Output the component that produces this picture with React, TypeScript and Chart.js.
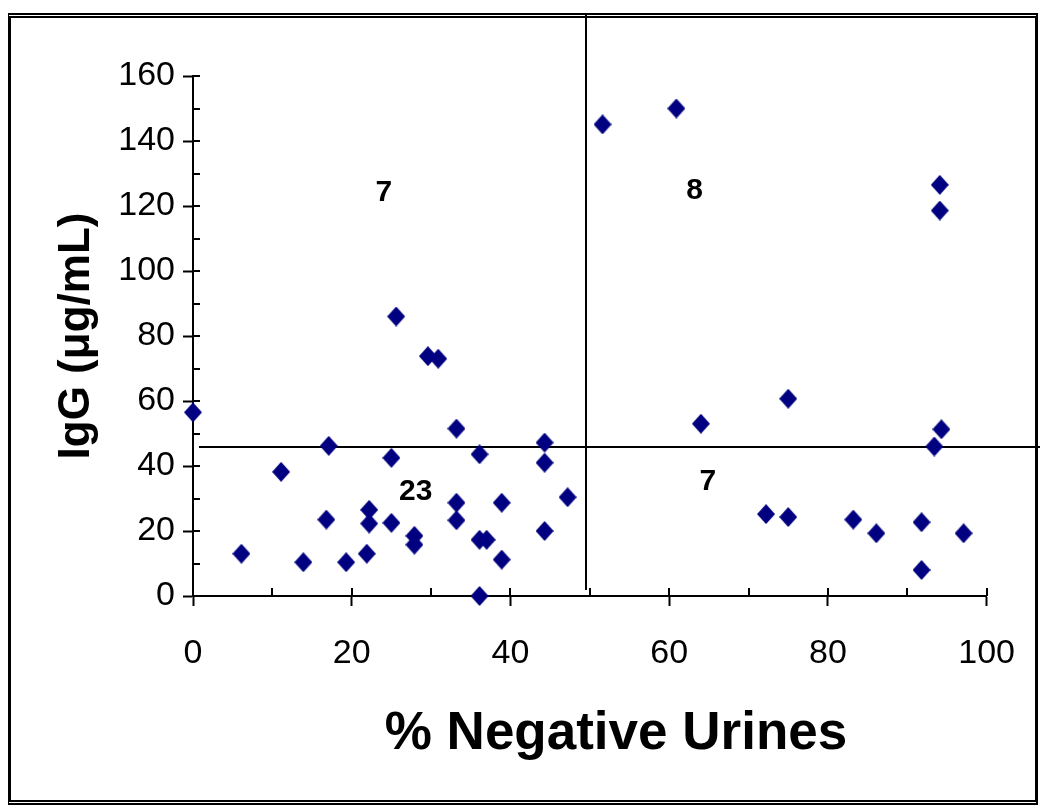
import React, { useEffect, useRef } from 'react';
import { Chart, registerables } from 'chart.js';

Chart.register(...registerables);

// % negative urines (x) and IgG in µg/mL (y)
const negativeUrines = [
  0, 6.1, 11.1, 13.9, 17.1, 16.8, 19.3, 21.9, 22.2, 22.2, 25, 25, 27.9, 27.9,
  25.6, 29.6, 30.9, 33.2, 33.2, 33.2, 36.1, 36.1, 37, 36.1, 38.9, 38.9, 44.3,
  44.3, 44.3, 47.2,
  51.6, 60.9, 94.1, 94.1, 64, 75, 94.3, 93.4,
  72.2, 75, 83.2, 86.1, 91.8, 97.1, 91.8,
];
const iggValues = [
  56.5, 13, 38.2, 10.4, 46.2, 23.5, 10.4, 13, 26.5, 22.3, 42.5, 22.5, 18.5, 15.8,
  86, 73.8, 73, 51.5, 28.7, 23.3, 43.6, 17.3, 17.3, 0, 28.7, 11.2, 47.2,
  41, 20, 30.4,
  145.1, 150, 126.5, 118.6, 53, 60.7, 51.3, 46,
  25.2, 24.3, 23.5, 19.3, 22.7, 19.3, 8,
];

const xTickValues = [0, 20, 40, 60, 80, 100];
const yTickValues = [0, 20, 40, 60, 80, 100, 120, 140, 160];

// quadrant counts and where they sit (data coordinates)
const quadrantCounts = ['7', '8', '23', '7'];
const countX = [24.05, 63.2, 28.06, 64.86];
const countY = [124.6, 125.2, 32.6, 35.7];

// cut-off lines
const xCut = 49.5;
const yCut = 46;

const xTitle = '% Negative Urines';
const yTitle = 'IgG (\u03bcg/mL)';

const FONT = '"Liberation Sans", Arial, Helvetica, sans-serif';
const MARKER_COLOR = '#000080';

function makeDiamond(): HTMLCanvasElement {
  const c = document.createElement('canvas');
  c.width = 18;
  c.height = 20;
  const g = c.getContext('2d')!;
  g.fillStyle = MARKER_COLOR;
  g.beginPath();
  g.moveTo(9, 0);
  g.lineTo(18, 10);
  g.lineTo(9, 20);
  g.lineTo(0, 10);
  g.closePath();
  g.fill();
  return c;
}

export default function App() {
  const ref = useRef<HTMLCanvasElement | null>(null);

  useEffect(() => {
    const canvas = ref.current;
    if (!canvas) return;

    const points = negativeUrines.map((x, i) => ({ x, y: iggValues[i] }));
    const diamond = makeDiamond();

    const decor = {
      id: 'decor',
      beforeDatasetsDraw(chart: any) {
        const { ctx, chartArea, scales } = chart;
        const xs = scales.x;
        const ys = scales.y;
        ctx.save();
        ctx.strokeStyle = '#000';
        // inner tick marks (every 10 units)
        ctx.lineWidth = 2;
        for (let v = 10; v <= 160; v += 10) {
          const py = Math.round(ys.getPixelForValue(v));
          ctx.beginPath();
          ctx.moveTo(chartArea.left, py);
          ctx.lineTo(chartArea.left + 7, py);
          ctx.stroke();
        }
        for (let v = 10; v <= 100; v += 10) {
          const px = Math.round(xs.getPixelForValue(v));
          ctx.beginPath();
          ctx.moveTo(px, chartArea.bottom);
          ctx.lineTo(px, chartArea.bottom - 8);
          ctx.stroke();
        }
        // quadrant lines
        ctx.lineWidth = 2;
        const hy = Math.round(ys.getPixelForValue(yCut));
        ctx.beginPath();
        ctx.moveTo(chartArea.left + 6, hy);
        ctx.lineTo(chart.width - 2, hy);
        ctx.stroke();
        const vx = Math.round(xs.getPixelForValue(xCut));
        ctx.beginPath();
        ctx.moveTo(vx, 6);
        ctx.lineTo(vx, chartArea.bottom - 6);
        ctx.stroke();
        ctx.restore();
      },
      afterDraw(chart: any) {
        const { ctx, scales } = chart;
        const xs = scales.x;
        const ys = scales.y;
        ctx.save();
        ctx.fillStyle = '#000';
        // quadrant counts
        ctx.font = `bold 30px ${FONT}`;
        ctx.textAlign = 'center';
        ctx.textBaseline = 'middle';
        quadrantCounts.forEach((t, i) => {
          ctx.fillText(t, xs.getPixelForValue(countX[i]), ys.getPixelForValue(countY[i]) + 2);
        });
        // x title
        ctx.font = `bold 53px ${FONT}`;
        ctx.textAlign = 'center';
        ctx.textBaseline = 'alphabetic';
        ctx.fillText(xTitle, 608, 741);
        // y title
        ctx.font = `bold 44px ${FONT}`;
        ctx.translate(81, 328);
        ctx.rotate(-Math.PI / 2);
        ctx.fillText(yTitle, 0, 0);
        ctx.restore();
      },
    };

    const chart = new Chart(canvas, {
      type: 'scatter',
      data: {
        datasets: [
          {
            data: points,
            pointStyle: diamond as any,
            pointRadius: 9,
            pointHoverRadius: 9,
            backgroundColor: MARKER_COLOR,
            borderColor: MARKER_COLOR,
            borderWidth: 0,
            clip: false as any,
          },
        ],
      },
      options: {
        responsive: false,
        animation: false,
        devicePixelRatio: 1,
        layout: { padding: { top: 68, right: 55, left: 0, bottom: 0 } },
        plugins: {
          legend: { display: false },
          tooltip: { enabled: false },
        },
        scales: {
          x: {
            type: 'linear',
            min: 0,
            max: 100,
            afterFit: (s: any) => {
              s.height = 213;
            },
            afterBuildTicks: (s: any) => {
              s.ticks = xTickValues.map((v) => ({ value: v }));
            },
            ticks: {
              color: '#000',
              font: { family: FONT, size: 34 },
              padding: 27,
              maxRotation: 0,
              autoSkip: false,
            },
            grid: {
              display: true,
              drawOnChartArea: false,
              drawTicks: true,
              tickLength: 10,
              tickColor: '#000',
              tickWidth: 2,
              color: '#000',
            },
            border: { display: true, color: '#000', width: 2 },
          },
          y: {
            type: 'linear',
            min: 0,
            max: 160,
            afterFit: (s: any) => {
              s.width = 185;
            },
            afterBuildTicks: (s: any) => {
              s.ticks = yTickValues.map((v) => ({ value: v }));
            },
            ticks: {
              color: '#000',
              font: { family: FONT, size: 34 },
              padding: 8,
              autoSkip: false,
            },
            grid: {
              display: true,
              drawOnChartArea: false,
              drawTicks: true,
              tickLength: 10,
              tickColor: '#000',
              tickWidth: 2,
              color: '#000',
            },
            border: { display: true, color: '#000', width: 2 },
          },
        },
      },
      plugins: [decor],
    });

    return () => chart.destroy();
  }, []);

  return (
    <div style={{ position: 'relative', width: 1034, height: 801 }}>
      <div
        style={{
          position: 'absolute',
          left: 0,
          top: 5,
          width: 1030,
          height: 792,
          boxSizing: 'border-box',
          borderLeft: '3px solid #000',
          borderRight: '3px solid #000',
          borderTop: '5px double #000',
          borderBottom: '5px double #000',
        }}
      />
      <canvas
        ref={ref}
        width={1034}
        height={801}
        style={{ position: 'absolute', left: 0, top: 0, width: 1034, height: 801 }}
      />
    </div>
  );
}
